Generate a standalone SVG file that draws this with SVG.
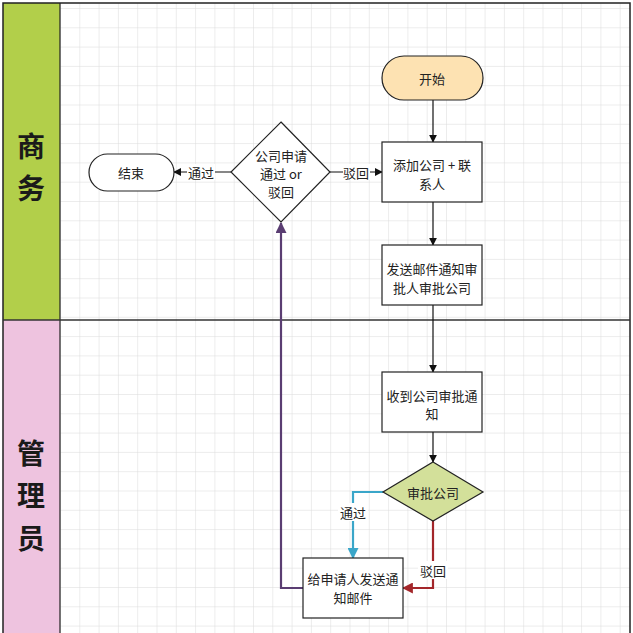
<svg xmlns="http://www.w3.org/2000/svg" width="633" height="633" viewBox="0 0 633 633">
<defs>
<pattern id="grid" x="60" y="8" width="19.3" height="19.3" patternUnits="userSpaceOnUse">
<path d="M0 0H19.3M0 0V19.3" fill="none" stroke="#dadada" stroke-width="1"/>
</pattern>
<marker id="ak" viewBox="0 0 10 10" refX="9" refY="5" markerWidth="8" markerHeight="8" markerUnits="userSpaceOnUse" orient="auto"><path d="M0 0L10 5L0 10z" fill="#111"/></marker>
<marker id="ab" viewBox="0 0 10 10" refX="9" refY="5" markerWidth="11" markerHeight="11" markerUnits="userSpaceOnUse" orient="auto"><path d="M0 0L10 5L0 10z" fill="#3aa6c9"/></marker>
<marker id="ar" viewBox="0 0 10 10" refX="9" refY="5" markerWidth="11" markerHeight="11" markerUnits="userSpaceOnUse" orient="auto"><path d="M0 0L10 5L0 10z" fill="#a3262a"/></marker>
<marker id="ap" viewBox="0 0 10 10" refX="9" refY="5" markerWidth="11" markerHeight="11" markerUnits="userSpaceOnUse" orient="auto"><path d="M0 0L10 5L0 10z" fill="#5a3d72"/></marker>
</defs>
<style>
text{font-family:"Noto Sans CJK SC","Noto Sans",sans-serif;fill:#222;text-anchor:middle;dominant-baseline:central}
.t{font-size:13px}
.lane{font-size:28px;font-weight:bold;fill:#1a1a1a}
.shape{stroke:#222;stroke-width:1.2}
.c{fill:none;stroke:#111;stroke-width:1.2}
.lbl{fill:#fff}
</style>
<rect x="0" y="0" width="633" height="633" fill="#fff"/>
<rect x="60" y="3" width="570" height="630" fill="url(#grid)"/>
<g id="lanes">
<rect x="3" y="3" width="57" height="317" fill="#b2cf4a"/>
<rect x="3" y="320" width="57" height="320" fill="#eec3df"/>
<rect x="3" y="3" width="627" height="640" fill="none" stroke="#222" stroke-width="1.5"/>
<line x1="60" y1="3" x2="60" y2="633" stroke="#222" stroke-width="1.2"/>
<line x1="3" y1="320" x2="630" y2="320" stroke="#333" stroke-width="1.5"/>
<text class="lane" x="31" y="145">商</text>
<text class="lane" x="31" y="187">务</text>
<text class="lane" x="31" y="452">管</text>
<text class="lane" x="31" y="494">理</text>
<text class="lane" x="31" y="537">员</text>
</g>
<g id="connectors">
<line class="c" x1="433" y1="100" x2="433" y2="142" marker-end="url(#ak)"/>
<line class="c" x1="433" y1="202" x2="433" y2="245" marker-end="url(#ak)"/>
<line class="c" x1="433" y1="305" x2="433" y2="372" marker-end="url(#ak)"/>
<line class="c" x1="433" y1="432" x2="433" y2="462" marker-end="url(#ak)"/>
<line class="c" x1="330" y1="172" x2="382" y2="172" marker-end="url(#ak)"/>
<rect class="lbl" x="343" y="164" width="27" height="16"/>
<text class="t" x="356" y="172">驳回</text>
<line class="c" x1="231" y1="172" x2="174" y2="172" marker-end="url(#ak)"/>
<rect class="lbl" x="187" y="164" width="28" height="16"/>
<text class="t" x="201" y="172">通过</text>
<path d="M383 492H353V558" fill="none" stroke="#3aa6c9" stroke-width="2.2" marker-end="url(#ab)"/>
<rect class="lbl" x="338" y="503" width="30" height="18"/>
<text class="t" x="353" y="512">通过</text>
<path d="M433 521V588H403" fill="none" stroke="#a3262a" stroke-width="2.2" marker-end="url(#ar)"/>
<rect class="lbl" x="418" y="561" width="30" height="18"/>
<text class="t" x="433" y="570">驳回</text>
<path d="M303 588H281V223" fill="none" stroke="#5a3d72" stroke-width="2.2" marker-end="url(#ap)"/>
</g>
<g id="start">
<rect class="shape" x="382" y="56" width="101" height="44" rx="22" fill="#fde2b2"/>
<text class="t" x="432" y="78">开始</text>
</g>
<g id="add-company">
<rect class="shape" x="382" y="142" width="100" height="60" fill="#fff"/>
<text class="t" x="432" y="164">添加公司 + 联</text>
<text class="t" x="432" y="183">系人</text>
</g>
<g id="send-mail">
<rect class="shape" x="382" y="245" width="100" height="60" fill="#fff"/>
<text class="t" x="432" y="268">发送邮件通知审</text>
<text class="t" x="432" y="287">批人审批公司</text>
</g>
<g id="receive">
<rect class="shape" x="382" y="372" width="100" height="60" fill="#fff"/>
<text class="t" x="432" y="395">收到公司审批通</text>
<text class="t" x="432" y="413">知</text>
</g>
<g id="approve">
<path class="shape" d="M433 462L483 492L433 521L383 492Z" fill="#d3e09a"/>
<text class="t" x="433" y="492">审批公司</text>
</g>
<g id="notify">
<rect class="shape" x="303" y="558" width="100" height="60" fill="#fff"/>
<text class="t" x="353" y="578">给申请人发送通</text>
<text class="t" x="353" y="597">知邮件</text>
</g>
<g id="decision">
<path class="shape" d="M281 122L330 172L281 222L231 172Z" fill="#fff"/>
<text class="t" x="281" y="155">公司申请</text>
<text class="t" x="281" y="173">通过 or</text>
<text class="t" x="281" y="191">驳回</text>
</g>
<g id="end">
<rect class="shape" x="89" y="154" width="85" height="37" rx="18.5" fill="#fff"/>
<text class="t" x="131" y="172">结束</text>
</g>
</svg>
